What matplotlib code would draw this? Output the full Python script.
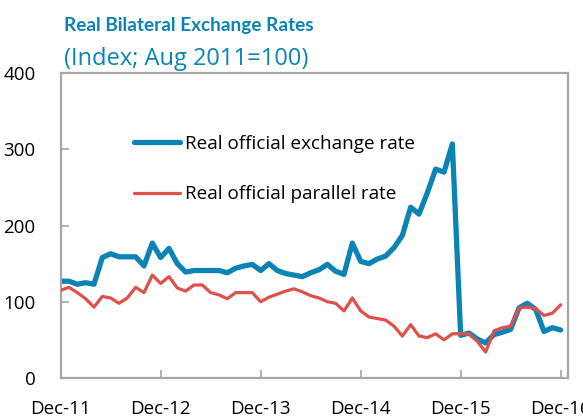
import matplotlib
matplotlib.use("Agg")
import matplotlib.pyplot as plt
import numpy as np

plt.rcParams['font.family'] = ['Open Sans', 'DejaVu Sans']

tick_labels = ["Dec-11", "Dec-12", "Dec-13", "Dec-14", "Dec-15", "Dec-16"]
official = [127, 127, 123, 125, 123, 158, 163, 159, 159, 159,
            147, 177, 158, 170, 150, 139, 141, 141, 141, 141,
            138, 144, 147, 149, 141, 150, 141, 137, 135, 133,
            138, 142, 149, 140, 136, 177, 153, 150, 156, 160,
            171, 187, 224, 215, 243, 274, 270, 307, 56, 59,
            51, 46, 57, 60, 64, 92, 98, 90, 61, 66, 63]
parallel = [115, 119, 112, 104, 93, 107, 105, 98, 105, 119,
            112, 135, 124, 133, 118, 114, 122, 122, 112, 109,
            104, 112, 112, 112, 100, 106, 110, 114, 117, 113,
            108, 105, 100, 98, 88, 105, 88, 80, 78, 76,
            68, 55, 70, 55, 53, 58, 50, 58, 58, 58,
            48, 34, 62, 66, 68, 92, 93, 91, 82, 85, 96]
series_names = ["Real official exchange rate", "Real official parallel rate"]

blue = "#0B84B5"
red = "#E0504A"
grey = "#A6A6A6"

fig = plt.figure(figsize=(5.83, 4.20), dpi=100)
ax = fig.add_axes([0.104, 0.1, 0.870, 0.726])

x = np.arange(len(official))
ax.plot(x, official, color=blue, lw=3.8, solid_joinstyle='round', solid_capstyle='round', label=series_names[0], zorder=2)
ax.plot(x, parallel, color=red, lw=2.3, solid_joinstyle='round', solid_capstyle='round', label=series_names[1], zorder=3)

ax.set_xlim(0, 60.86)
ax.set_ylim(0, 400)
ax.set_yticks([0, 100, 200, 300, 400])
ax.set_xticks(np.arange(0, 61, 12))
ax.set_xticklabels(tick_labels)

for s in ax.spines.values():
    s.set_color(grey)
    s.set_linewidth(1.6)

ax.tick_params(axis='both', direction='in', color=grey, width=1.2, length=6, labelsize=13.5, labelcolor='black')
ax.tick_params(axis='y', pad=18)
ax.tick_params(axis='x', pad=16)

leg = ax.legend(loc='upper left', bbox_to_anchor=(0.111, 0.853), frameon=False, fontsize=13.6,
                handlelength=2.45, handletextpad=0.28, labelspacing=1.71)

fig.text(0.110, 0.925, "Real Bilateral Exchange Rates", color=blue, fontsize=13.7, fontweight='bold',
         va='baseline', family=['Lato', 'DejaVu Sans'])
fig.text(0.110, 0.846, "(Index; Aug 2011=100)", color=blue, fontsize=17, va='baseline')

fig.savefig("out.png", dpi=100)
